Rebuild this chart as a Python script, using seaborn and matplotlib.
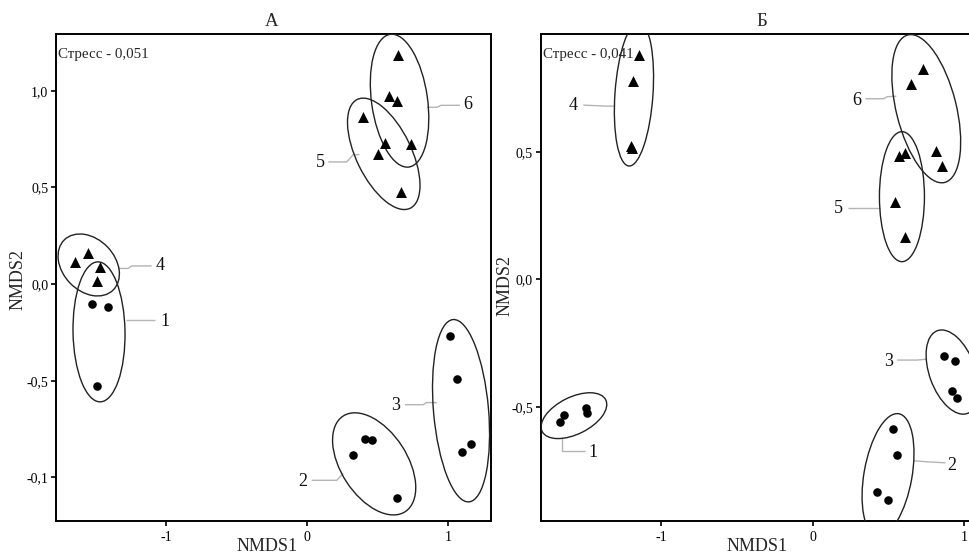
import numpy as np
import pandas as pd
import matplotlib
matplotlib.use("Agg")
import matplotlib.pyplot as plt
import seaborn as sns
from matplotlib.patches import Ellipse
from matplotlib.transforms import ScaledTranslation

# ---------------- data ----------------
PANEL_TITLES = ["А", "Б"]
STRESS_TEXT = ["Стресс - 0,051", "Стресс - 0,041"]
GROUPS = ["1", "2", "3", "4", "5", "6"]
GROUP_SHAPE = ["circle", "circle", "circle", "triangle", "triangle", "triangle"]

# Panel A (NMDS1, NMDS2)
A_G1_X = [-1.529, -1.411, -1.494]
A_G1_Y = [-0.103, -0.120, -0.529]
A_G2_X = [0.326, 0.409, 0.461, 0.634]
A_G2_Y = [-0.885, -0.803, -0.806, -1.108]
A_G3_X = [1.012, 1.060, 1.095, 1.163]
A_G3_Y = [-0.266, -0.493, -0.870, -0.828]
A_G4_X = [-1.553, -1.648, -1.470, -1.489]
A_G4_Y = [0.163, 0.112, 0.089, 0.014]
A_G5_X = [0.397, 0.551, 0.499, 0.662]
A_G5_Y = [0.864, 0.730, 0.674, 0.476]
A_G6_X = [0.641, 0.582, 0.638, 0.735]
A_G6_Y = [1.186, 0.971, 0.948, 0.727]

# Panel B (NMDS1, NMDS2)
B_G1_X = [-1.671, -1.642, -1.499, -1.494]
B_G1_Y = [-0.561, -0.534, -0.506, -0.524]
B_G2_X = [0.530, 0.559, 0.426, 0.499]
B_G2_Y = [-0.589, -0.691, -0.833, -0.865]
B_G3_X = [0.868, 0.945, 0.923, 0.956]
B_G3_Y = [-0.301, -0.321, -0.437, -0.465]
B_G4_X = [-1.146, -1.189, -1.201, -1.195]
B_G4_Y = [0.879, 0.777, 0.524, 0.516]
B_G5_X = [0.570, 0.614, 0.543, 0.609]
B_G5_Y = [0.484, 0.496, 0.304, 0.164]
B_G6_X = [0.731, 0.654, 0.817, 0.857]
B_G6_Y = [0.824, 0.764, 0.503, 0.445]

A_XTICKS = [-1, 0, 1]
A_XTICKLABELS = ["-1", "0", "1"]
A_YTICKS = [1.0, 0.5, 0.0, -0.5, -1.0]
A_YTICKLABELS = ["1,0", "0,5", "0,0", "-0,5", "-0,1"]
B_XTICKS = [-1, 0, 1]
B_XTICKLABELS = ["-1", "0", "1"]
B_YTICKS = [0.5, 0.0, -0.5]
B_YTICKLABELS = ["0,5", "0,0", "-0,5"]


def make_df(xs, ys):
    rows = []
    for g, shape, x, y in zip(GROUPS, GROUP_SHAPE, xs, ys):
        for xi, yi in zip(x, y):
            rows.append({"group": g, "shape": shape, "NMDS1": xi, "NMDS2": yi})
    return pd.DataFrame(rows)


df_a = make_df([A_G1_X, A_G2_X, A_G3_X, A_G4_X, A_G5_X, A_G6_X],
               [A_G1_Y, A_G2_Y, A_G3_Y, A_G4_Y, A_G5_Y, A_G6_Y])
df_b = make_df([B_G1_X, B_G2_X, B_G3_X, B_G4_X, B_G5_X, B_G6_X],
               [B_G1_Y, B_G2_Y, B_G3_Y, B_G4_Y, B_G5_Y, B_G6_Y])

# ---------------- layout / annotation geometry ----------------
# ellipse: (center x, center y, major px, minor px, angle deg)
ELL_A = [(-1.477, -0.247, 140, 52, 91), (0.474, -0.930, 114, 66, 123),
         (1.090, -0.655, 183, 55, 95), (-1.550, 0.099, 70, 52, 134),
         (0.542, 0.674, 121, 55, 116), (0.654, 0.949, 134, 56, 98)]
ELL_B = [(-1.579, -0.535, 71, 37, 26.5), (0.499, -0.767, 124, 48, 80),
         (0.925, -0.364, 88, 46, 110), (-1.182, 0.726, 144, 38, 86),
         (0.591, 0.324, 130, 45, 90), (0.752, 0.669, 152, 60, 104)]
# leader lines & label positions
LEAD_A = [
    ("1", (-1.009, -0.194), [(-1.286, -0.184), (-1.080, -0.184)]),
    ("2", (-0.033, -1.022), [(0.031, -1.015), (0.209, -1.015), (0.255, -0.979)]),
    ("3", (0.629, -0.630), [(0.693, -0.624), (0.823, -0.624), (0.842, -0.613), (0.918, -0.613)]),
    ("4", (-1.045, 0.098), [(-1.340, 0.081), (-1.270, 0.081), (-1.245, 0.094), (-1.104, 0.094)]),
    ("5", (0.090, 0.627), [(0.149, 0.632), (0.279, 0.632), (0.326, 0.670), (0.369, 0.670)]),
    ("6", (1.140, 0.928), [(0.849, 0.915), (0.920, 0.915), (0.948, 0.925), (1.083, 0.925)]),
]
LEAD_B = [
    ("1", (-1.450, -0.680), [(-1.660, -0.624), (-1.660, -0.674), (-1.505, -0.674)]),
    ("2", (0.923, -0.729), [(0.669, -0.712), (0.758, -0.716), (0.879, -0.720)]),
    ("3", (0.503, -0.324), [(0.559, -0.317), (0.691, -0.317), (0.758, -0.313)]),
    ("4", (-1.583, 0.683), [(-1.517, 0.683), (-1.362, 0.679), (-1.307, 0.679)]),
    ("5", (0.172, 0.278), [(0.232, 0.278), (0.448, 0.278)]),
    ("6", (0.289, 0.703), [(0.349, 0.708), (0.470, 0.708), (0.493, 0.716), (0.554, 0.718)]),
]

sns.set_theme(style="white")
plt.rcParams["font.family"] = ["Liberation Serif", "DejaVu Serif"]
plt.rcParams["axes.edgecolor"] = "black"
plt.rcParams["axes.linewidth"] = 1.4

W, H = 970, 554
fig = plt.figure(figsize=(W / 100, H / 100), dpi=100)
fig.patch.set_facecolor("white")


def px_axes(l, t, r, b):
    return fig.add_axes([l / W, 1 - b / H, (r - l) / W, (b - t) / H])


ax_a = px_axes(56, 34, 491.5, 520.7)
ax_b = px_axes(540.7, 34, 976, 520.7)

panels = [
    (ax_a, df_a, (-1.782, 1.306), (-1.224, 1.294), A_XTICKS, A_XTICKLABELS, A_YTICKS, A_YTICKLABELS,
     ELL_A, LEAD_A, (0.484, -0.052), (-0.0866, 0.4946), 0.495),
    (ax_b, df_b, (-1.799, 1.081), (-0.947, 0.962), B_XTICKS, B_XTICKLABELS, B_YTICKS, B_YTICKLABELS,
     ELL_B, LEAD_B, (0.497, -0.052), (-0.0822, 0.484), 0.509),
]

for i, (ax, df, xl, yl, xt, xtl, yt, ytl, ells, leads, xlab, ylab, tx) in enumerate(panels):
    ax.set_facecolor("white")
    circ = df[df["shape"] == "circle"]
    tri = df[df["shape"] == "triangle"]
    sns.scatterplot(data=circ, x="NMDS1", y="NMDS2", marker="o", color="black",
                    s=38, linewidth=0, ax=ax, legend=False, zorder=5)
    sns.scatterplot(data=tri, x="NMDS1", y="NMDS2", marker="^", color="black",
                    s=62, linewidth=0, ax=ax, legend=False, zorder=5)
    ax.set_xlim(*xl)
    ax.set_ylim(*yl)
    for (cx, cy, wpx, hpx, ang) in ells:
        tr = fig.dpi_scale_trans + ScaledTranslation(cx, cy, ax.transData)
        e = Ellipse((0, 0), wpx / 100, hpx / 100, angle=ang, transform=tr,
                    fill=False, edgecolor="#222222", linewidth=1.0, zorder=4)
        e.set_clip_path(ax.patch)
        ax.add_patch(e)
    for lab, (lx, ly), pts in leads:
        px_ = [p[0] for p in pts]
        py_ = [p[1] for p in pts]
        ax.plot(px_, py_, color="#b4b4b4", lw=1.0, zorder=3, solid_capstyle="butt")
        ax.text(lx, ly, lab, fontsize=13, ha="center", va="center", color="#111111")
    ax.set_xticks(xt)
    ax.set_xticklabels(xtl)
    ax.set_yticks(yt)
    ax.set_yticklabels(ytl)
    ax.tick_params(axis="both", direction="out", length=3.5, width=1.2, labelsize=10,
                   colors="black", pad=2, bottom=True, left=True)
    ax.tick_params(axis="x", pad=4)
    for s in ax.spines.values():
        s.set_color("black")
        s.set_linewidth(1.4)
    ax.set_xlabel("NMDS1", fontsize=13)
    ax.set_ylabel("NMDS2", fontsize=13)
    ax.xaxis.set_label_coords(*xlab)
    ax.xaxis.label.set_va("center")
    ax.yaxis.set_label_coords(*ylab)
    ax.yaxis.label.set_va("center")
    ax.text(tx, 1 + 12 / 486.7, PANEL_TITLES[i], transform=ax.transAxes, fontsize=13.5,
            ha="center", va="center")
    ax.text(0.005, 0.958, STRESS_TEXT[i], transform=ax.transAxes, fontsize=10.8,
            ha="left", va="center", zorder=2)
    ax.grid(False)

fig.savefig("out.png", dpi=100, facecolor="white")
